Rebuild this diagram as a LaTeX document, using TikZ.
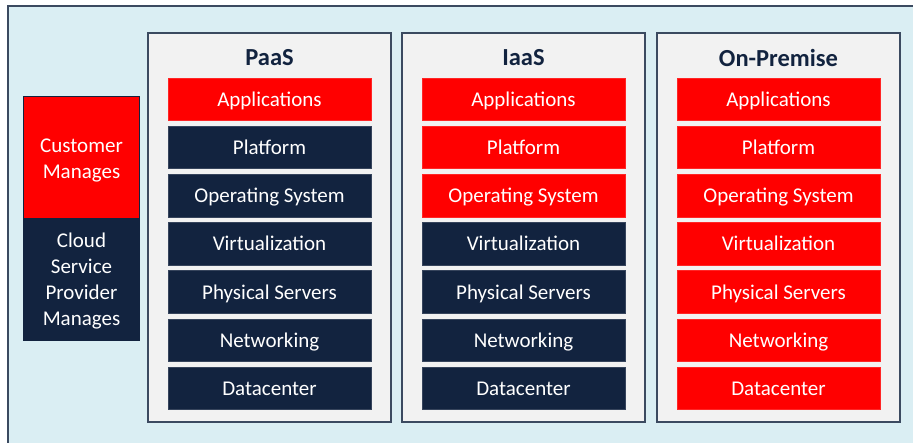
\documentclass[tikz,border=0pt]{standalone}
\usepackage{fontspec}
\setmainfont{Carlito}
\definecolor{frameblue}{HTML}{DAEEF3}
\definecolor{colfill}{HTML}{F2F2F2}
\definecolor{edge}{HTML}{3B4A60}
\definecolor{navy}{HTML}{12233F}
\definecolor{hotred}{HTML}{FF0000}
\tikzset{
  layer/.style={draw=#1!85!white, line width=0.6pt, fill=#1, minimum width=203pt, minimum height=42.5pt,
    inner sep=0pt, text height=15.5pt, text depth=1.5pt, text=white, font=\fontsize{21}{24}\selectfont},
  column/.style={draw=edge, line width=1.6pt, fill=colfill},
  coltitle/.style={font=\fontsize{24.5}{28}\selectfont\bfseries, text=navy},
  legendbox/.style={draw=navy, line width=1pt, fill=#1, minimum width=116pt, minimum height=122pt,
    inner sep=0pt, text=white, align=center, font=\fontsize{21}{26}\selectfont},
}
\begin{document}
\begin{tikzpicture}[x=1pt,y=-1pt]
\clip (0,0) rectangle (913,442);
\fill[white] (0,0) rectangle (913,442);
% outer frame, running past the right and bottom edges
\draw[fill=frameblue, draw=edge, line width=1.1pt] (8,6) rectangle (930,460);

% legend
\node[legendbox=hotred, anchor=north west] (cust) at (23,96) {};
\node[text=white, align=center, font=\fontsize{21}{26}\selectfont] (custtext) at ([yshift=-2.5pt]cust.center) {Customer\\Manages};
\node[legendbox=navy, anchor=north west] (csp) at (23,218) {};
\node[text=white, align=center, font=\fontsize{21}{26}\selectfont] (csptext) at ([yshift=-2pt]csp.center) {Cloud\\Service\\Provider\\Manages};

% columns: name, left x, title, number of customer-managed layers from the top
\foreach \cn/\cx/\ct/\nred in {paas/148/PaaS/1, iaas/402/IaaS/3, onprem/657/On-Premise/7}{
  \draw[column] (\cx,33) rectangle (\cx+243,422);
  \node[coltitle] (\cn-title) at (\cx+121.5,57.5) {\ct};
  \foreach \lab [count=\i] in {Applications, Platform, Operating System, Virtualization, Physical Servers, Networking, Datacenter}{
    \ifnum\i>\nred
      \node[layer=navy] (\cn-\i) at (\cx+121.5,99.2+48.2*\i-48.2) {\lab};
    \else
      \node[layer=hotred] (\cn-\i) at (\cx+121.5,99.2+48.2*\i-48.2) {\lab};
    \fi
  }
}
\end{tikzpicture}
\end{document}
